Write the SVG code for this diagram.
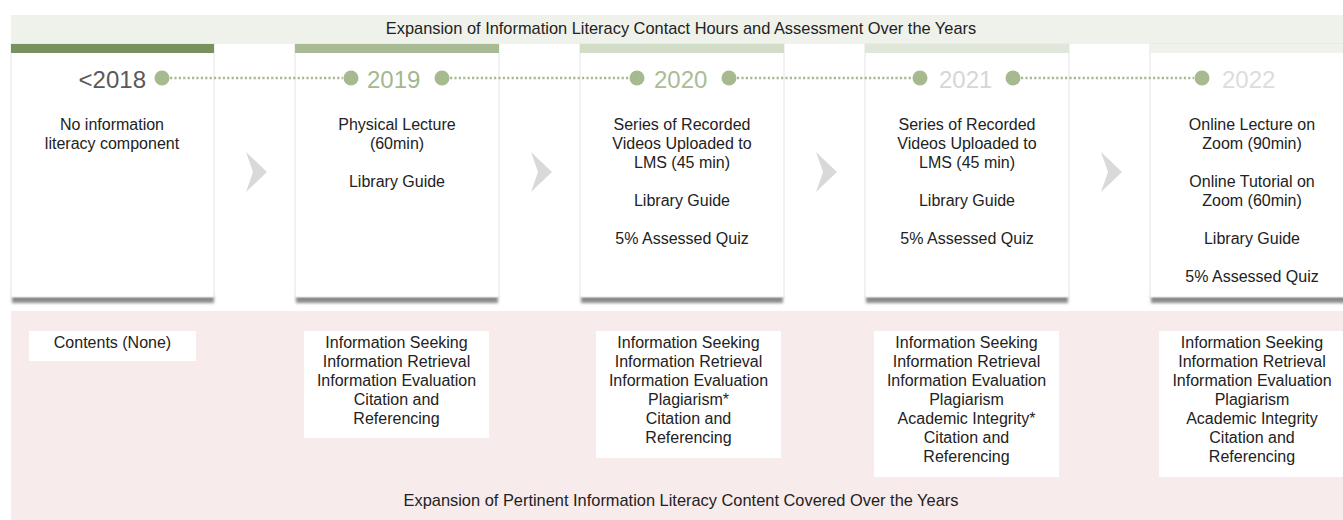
<svg xmlns="http://www.w3.org/2000/svg" width="1343" height="520" viewBox="0 0 1343 520">
<defs>
<style>
text{font-family:"Liberation Sans",Arial,sans-serif}
.title{font-size:16.4px;fill:#222;text-anchor:middle}
.body{font-size:16px;fill:#222;text-anchor:middle}
.year{font-size:24px}
.card{fill:#fff;stroke:#e4e4e4;stroke-width:1}
.dot{fill:#a6b98f}
.dash{stroke:#a6b98f;stroke-width:2.6;stroke-dasharray:2.2 2.2;fill:none}
.chev{fill:#d9d9d9}
.box{fill:#fff}
</style>
<filter id="blur" x="-5%" y="-100%" width="110%" height="300%"><feGaussianBlur stdDeviation="1.4"/></filter>
</defs>
<rect width="1343" height="520" fill="#fff"/>
<rect x="11" y="15" width="1332" height="29" fill="#eef2eb"/>
<text class="title" x="681" y="34">Expansion of Information Literacy Contact Hours and Assessment Over the Years</text>
<rect x="11" y="311" width="1332" height="209" fill="#f7ebec"/>
<text class="title" x="681" y="506">Expansion of Pertinent Information Literacy Content Covered Over the Years</text>

<g id="card-2018">
<rect x="12" y="296" width="202" height="7" fill="#8a8a8a" filter="url(#blur)"/>
<rect class="card" x="11" y="44" width="203" height="253"/>
<rect x="11" y="44" width="203" height="9" fill="#78925d"/>
<text class="year" x="146" y="88" text-anchor="end" fill="#595959">&lt;2018</text>
<circle class="dot" cx="162" cy="78" r="7.5"/>
<text class="body" x="112" y="129.5">No information</text>
<text class="body" x="112" y="148.5">literacy component</text>
</g>

<g id="card-2019">
<rect x="296" y="296" width="202" height="7" fill="#8a8a8a" filter="url(#blur)"/>
<rect class="card" x="295" y="44" width="204" height="253"/>
<rect x="295" y="44" width="204" height="9" fill="#a9bb94"/>
<circle class="dot" cx="351" cy="78" r="7.5"/>
<text class="year" x="367" y="88" fill="#a4b78e">2019</text>
<circle class="dot" cx="442" cy="78" r="7.5"/>
<text class="body" x="397" y="129.5">Physical Lecture</text>
<text class="body" x="397" y="148.5">(60min)</text>
<text class="body" x="397" y="186.5">Library Guide</text>
</g>

<g id="card-2020">
<rect x="581" y="296" width="202" height="7" fill="#8a8a8a" filter="url(#blur)"/>
<rect class="card" x="580" y="44" width="204" height="253"/>
<rect x="580" y="44" width="204" height="9" fill="#d2ddc8"/>
<circle class="dot" cx="637" cy="78" r="7.5"/>
<text class="year" x="654" y="88" fill="#a9bc95">2020</text>
<circle class="dot" cx="729" cy="78" r="7.5"/>
<text class="body" x="682" y="129.5">Series of Recorded</text>
<text class="body" x="682" y="148.5">Videos Uploaded to</text>
<text class="body" x="682" y="167.5">LMS (45 min)</text>
<text class="body" x="682" y="205.5">Library Guide</text>
<text class="body" x="682" y="243.5">5% Assessed Quiz</text>
</g>

<g id="card-2021">
<rect x="866" y="296" width="202" height="7" fill="#8a8a8a" filter="url(#blur)"/>
<rect class="card" x="865" y="44" width="204" height="253"/>
<rect x="865" y="44" width="204" height="9" fill="#e0e7da"/>
<circle class="dot" cx="920" cy="78" r="7.5"/>
<text class="year" x="939" y="88" fill="#d6d6d6">2021</text>
<circle class="dot" cx="1013" cy="78" r="7.5"/>
<text class="body" x="967" y="129.5">Series of Recorded</text>
<text class="body" x="967" y="148.5">Videos Uploaded to</text>
<text class="body" x="967" y="167.5">LMS (45 min)</text>
<text class="body" x="967" y="205.5">Library Guide</text>
<text class="body" x="967" y="243.5">5% Assessed Quiz</text>
</g>

<g id="card-2022">
<rect x="1151" y="296" width="202" height="7" fill="#8a8a8a" filter="url(#blur)"/>
<rect class="card" x="1150" y="44" width="204" height="253"/>
<rect x="1150" y="44" width="204" height="9" fill="#eef2eb"/>
<circle class="dot" cx="1202" cy="78" r="7.5"/>
<text class="year" x="1222" y="88" fill="#dcdcdc">2022</text>
<text class="body" x="1252" y="129.5">Online Lecture on</text>
<text class="body" x="1252" y="148.5">Zoom (90min)</text>
<text class="body" x="1252" y="186.5">Online Tutorial on</text>
<text class="body" x="1252" y="205.5">Zoom (60min)</text>
<text class="body" x="1252" y="243.5">Library Guide</text>
<text class="body" x="1252" y="281.5">5% Assessed Quiz</text>
</g>

<g id="connectors">
<line class="dash" x1="170" y1="78" x2="343" y2="78"/>
<line class="dash" x1="450" y1="78" x2="629" y2="78"/>
<line class="dash" x1="737" y1="78" x2="912" y2="78"/>
<line class="dash" x1="1021" y1="78" x2="1194" y2="78"/>
<polygon class="chev" points="246,152 267,172 246,192 253,172"/>
<polygon class="chev" points="531,152 552,172 531,192 538,172"/>
<polygon class="chev" points="816,152 837,172 816,192 823,172"/>
<polygon class="chev" points="1101,152 1122,172 1101,192 1108,172"/>
</g>

<g id="content-2018">
<rect class="box" x="29" y="331" width="167" height="30"/>
<text class="body" x="112.5" y="348">Contents (None)</text>
</g>
<g id="content-2019">
<rect class="box" x="304" y="331" width="185" height="107"/>
<text class="body" x="396.5" y="348">Information Seeking</text>
<text class="body" x="396.5" y="367">Information Retrieval</text>
<text class="body" x="396.5" y="386">Information Evaluation</text>
<text class="body" x="396.5" y="405">Citation and</text>
<text class="body" x="396.5" y="424">Referencing</text>
</g>
<g id="content-2020">
<rect class="box" x="596" y="331" width="185" height="127"/>
<text class="body" x="688.5" y="348">Information Seeking</text>
<text class="body" x="688.5" y="367">Information Retrieval</text>
<text class="body" x="688.5" y="386">Information Evaluation</text>
<text class="body" x="688.5" y="405">Plagiarism*</text>
<text class="body" x="688.5" y="424">Citation and</text>
<text class="body" x="688.5" y="443">Referencing</text>
</g>
<g id="content-2021">
<rect class="box" x="874" y="331" width="185" height="146"/>
<text class="body" x="966.5" y="348">Information Seeking</text>
<text class="body" x="966.5" y="367">Information Retrieval</text>
<text class="body" x="966.5" y="386">Information Evaluation</text>
<text class="body" x="966.5" y="405">Plagiarism</text>
<text class="body" x="966.5" y="424">Academic Integrity*</text>
<text class="body" x="966.5" y="443">Citation and</text>
<text class="body" x="966.5" y="462">Referencing</text>
</g>
<g id="content-2022">
<rect class="box" x="1159" y="331" width="185" height="146"/>
<text class="body" x="1252" y="348">Information Seeking</text>
<text class="body" x="1252" y="367">Information Retrieval</text>
<text class="body" x="1252" y="386">Information Evaluation</text>
<text class="body" x="1252" y="405">Plagiarism</text>
<text class="body" x="1252" y="424">Academic Integrity</text>
<text class="body" x="1252" y="443">Citation and</text>
<text class="body" x="1252" y="462">Referencing</text>
</g>
</svg>
